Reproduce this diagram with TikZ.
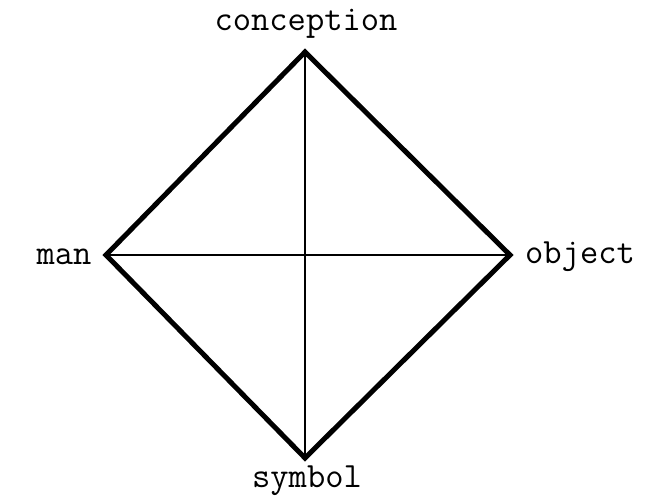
\documentclass[tikz,border=0pt]{standalone}
\usetikzlibrary{positioning}

\begin{document}
\begin{tikzpicture}[x=1pt,y=-1pt,
    lbl/.style={font=\ttfamily\fontsize{35.5}{36}\selectfont,inner sep=0pt},
    edge/.style={line width=5pt,line join=miter},
    diag/.style={line width=1.6pt}]
    \useasboundingbox (0,0) rectangle (670,498);
    \coordinate (top) at (305,52);
    \coordinate (lft) at (106,255);
    \coordinate (rgt) at (510,255);
    \coordinate (bot) at (305,458);
    \node[lbl] (conc) at (306,24) {conception};
    \node[lbl] (man) at (64,257) {man};
    \node[lbl] (obj) at (580,257) {object};
    \node[lbl] (sym) at (307,481) {symbol};
    \draw[diag] (top) -- (bot);
    \draw[diag] (lft) -- (rgt);
    \draw[edge] (top) -- (rgt) -- (bot) -- (lft) -- cycle;
\end{tikzpicture}
\end{document}
